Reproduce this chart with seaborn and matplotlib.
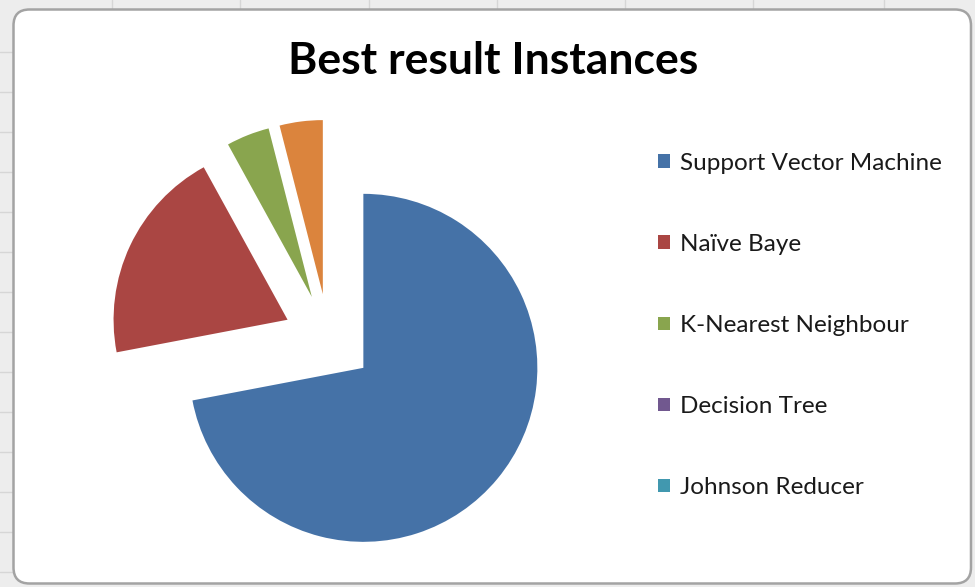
import matplotlib
matplotlib.use("Agg")
import matplotlib.pyplot as plt
import seaborn as sns
from matplotlib.patches import FancyBboxPatch, Patch
from matplotlib.lines import Line2D

# Number of instances on which each classifier gave the best result
classifiers = ["Support Vector Machine", "Naïve Baye", "K-Nearest Neighbour",
               "Decision Tree", "Johnson Reducer", "Other"]
best_counts = [18, 5, 1, 0, 0, 1]
legend_entries = 5
slice_colors = ["#4572A7", "#AA4643", "#89A54E", "#71588F", "#4198AF", "#DB843D"]

sns.set_theme(style="white")
plt.rcParams["font.family"] = ["Lato", "DejaVu Sans"]

W, H = 975, 587
fig = plt.figure(figsize=(W / 100, H / 100), dpi=100)
fig.patch.set_facecolor("#ededed")

# faint worksheet cell lines around the chart object
for x in [112, 240, 369, 497, 625, 753, 884]:
    fig.add_artist(Line2D([x / W, x / W], [1 - 10 / H, 1], color="#d6d6d6", lw=1, zorder=-3))
for y in range(52, 587, 40):
    fig.add_artist(Line2D([0, 13 / W], [1 - y / H, 1 - y / H], color="#d6d6d6", lw=1, zorder=-3))

# chart area with rounded corners
frame = FancyBboxPatch((0.135, 0.035), 9.575, 5.74,
                       boxstyle="round,pad=0,rounding_size=0.16",
                       transform=fig.dpi_scale_trans, facecolor="white",
                       edgecolor="#a3a3a3", linewidth=1.8, zorder=-2)
fig.add_artist(frame)

# pie axes: one data unit equals the pie radius in pixels
R = 174.0
cx, cy = 328.5, H - 339.0
ax = fig.add_axes([0, 0, 1, 1])
ax.patch.set_visible(False)
wedges, _ = ax.pie(best_counts, colors=slice_colors, startangle=90,
                   counterclock=False, explode=[0.26] * len(best_counts),
                   radius=1, wedgeprops=dict(linewidth=0))
ax.set_xlim(-cx / R, (W - cx) / R)
ax.set_ylim(-cy / R, (H - cy) / R)
ax.set_aspect("auto")
ax.axis("off")

fig.text(493.5 / W, 1 - 61 / H, "Best result Instances", ha="center", va="center",
         fontsize=32, fontweight="bold", color="black")

handles = [Patch(facecolor=c, edgecolor="none") for c in slice_colors[:legend_entries]]
fig.legend(handles, classifiers[:legend_entries], loc="upper left",
           bbox_to_anchor=(658 / W, 1 - 153 / H), frameon=False, fontsize=17.5,
           handlelength=0.5, handleheight=0.5, handletextpad=0.42,
           labelspacing=2.47, borderpad=0, borderaxespad=0, labelcolor="#1a1a1a")

fig.savefig("out.png", dpi=100, facecolor=fig.get_facecolor())
